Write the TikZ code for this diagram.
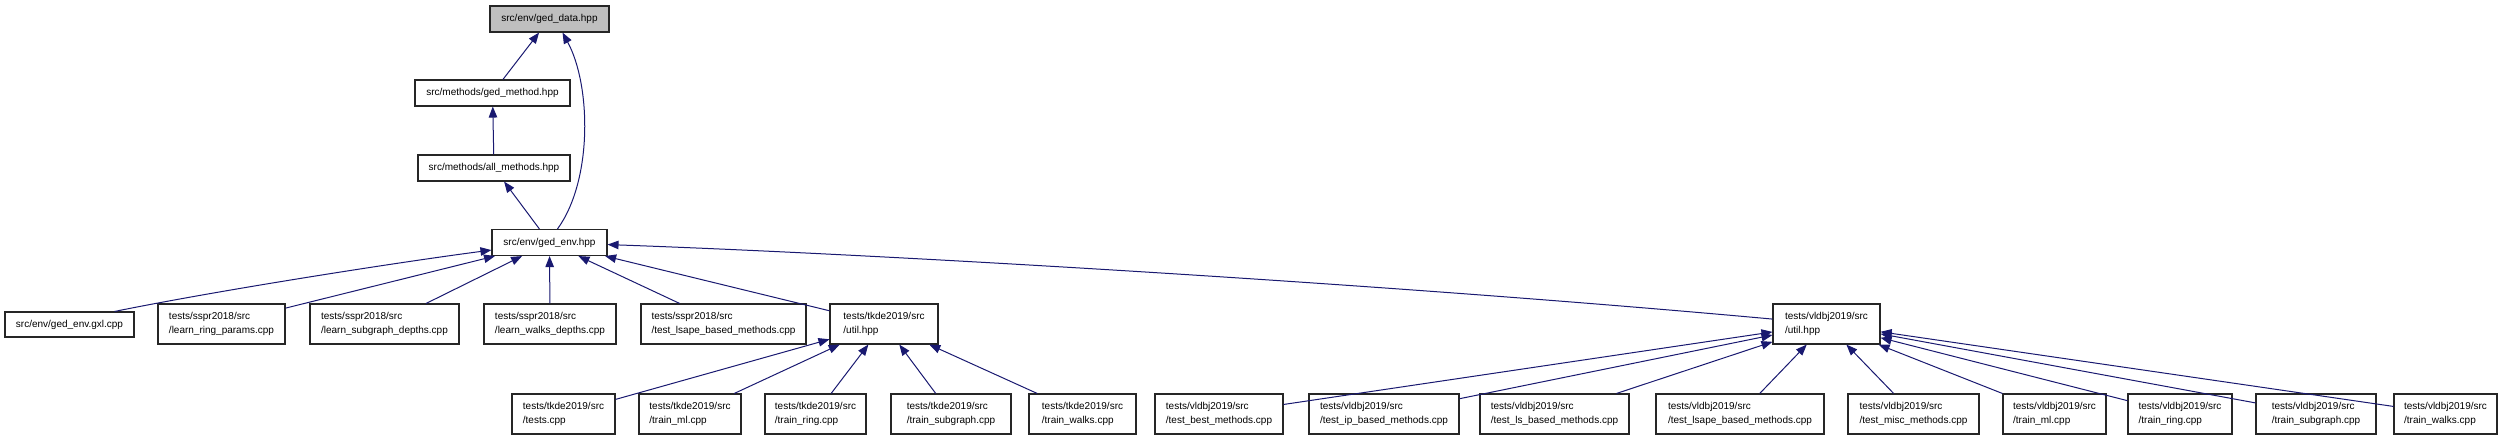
\documentclass[tikz,border=0pt]{standalone}
\usepackage{fontspec}
\setmainfont{Liberation Sans}
\usepackage{tikz}
\usetikzlibrary{arrows.meta}

\definecolor{edgeblue}{RGB}{25,25,112}
\definecolor{focusgray}{RGB}{191,191,191}

\begin{document}
\begin{tikzpicture}[x=1pt,y=-1pt,
  file/.style={draw=black!85,line width=1.1pt,inner sep=0pt,minimum height=26pt,
    font=\fontsize{10}{14.5}\selectfont,align=left},
  dep/.style={draw=edgeblue,line width=1pt,-{Triangle[length=11pt,width=8.5pt]}}]
\useasboundingbox (0,0) rectangle (2500,440);
% upper chain
\node[file,fill=focusgray,minimum width=119pt] (gedata) at (549.5,19) {src/env/ged\_data.hpp};
\node[file,minimum width=155pt] (gedmethod) at (492.5,93) {src/methods/ged\_method.hpp};
\node[file,minimum width=152pt] (allmethods) at (494,168) {src/methods/all\_methods.hpp};
\node[file,minimum width=115pt] (gedenv) at (549.5,242.5) {src/env/ged\_env.hpp};
% files that include ged_env.hpp
\node[file,minimum width=129pt,minimum height=25pt] (gxl) at (69.5,324.5) {src/env/ged\_env.gxl.cpp};
\node[file,minimum width=127pt,minimum height=40pt] (learnring) at (221.5,324) {tests/sspr2018/src\\/learn\_ring\_params.cpp};
\node[file,minimum width=149pt,minimum height=40pt] (learnsub) at (384.5,324) {tests/sspr2018/src\\/learn\_subgraph\_depths.cpp};
\node[file,minimum width=132pt,minimum height=40pt] (learnwalks) at (550,324) {tests/sspr2018/src\\/learn\_walks\_depths.cpp};
\node[file,minimum width=165pt,minimum height=40pt] (ssprlsape) at (723.5,324) {tests/sspr2018/src\\/test\_lsape\_based\_methods.cpp};
\node[file,minimum width=108pt,minimum height=40pt] (tkdeutil) at (884,324) {tests/tkde2019/src\\/util.hpp};
\node[file,minimum width=107pt,minimum height=40pt] (vldbjutil) at (1826.5,324) {tests/vldbj2019/src\\/util.hpp};
% tkde2019 tests
\node[file,minimum width=103pt,minimum height=40pt] (tkdetests) at (563.5,414) {tests/tkde2019/src\\/tests.cpp};
\node[file,minimum width=102pt,minimum height=40pt] (tkdeml) at (690,414) {tests/tkde2019/src\\/train\_ml.cpp};
\node[file,minimum width=101pt,minimum height=40pt] (tkdering) at (815.5,414) {tests/tkde2019/src\\/train\_ring.cpp};
\node[file,minimum width=120pt,minimum height=40pt] (tkdesub) at (951,414) {tests/tkde2019/src\\/train\_subgraph.cpp};
\node[file,minimum width=107pt,minimum height=40pt] (tkdewalks) at (1082.5,414) {tests/tkde2019/src\\/train\_walks.cpp};
% vldbj2019 tests
\node[file,minimum width=128pt,minimum height=40pt] (vbest) at (1219,414) {tests/vldbj2019/src\\/test\_best\_methods.cpp};
\node[file,minimum width=150pt,minimum height=40pt] (vip) at (1384,414) {tests/vldbj2019/src\\/test\_ip\_based\_methods.cpp};
\node[file,minimum width=149pt,minimum height=40pt] (vls) at (1554.5,414) {tests/vldbj2019/src\\/test\_ls\_based\_methods.cpp};
\node[file,minimum width=168pt,minimum height=40pt] (vlsape) at (1740,414) {tests/vldbj2019/src\\/test\_lsape\_based\_methods.cpp};
\node[file,minimum width=131pt,minimum height=40pt] (vmisc) at (1913.5,414) {tests/vldbj2019/src\\/test\_misc\_methods.cpp};
\node[file,minimum width=103pt,minimum height=40pt] (vml) at (2054.5,414) {tests/vldbj2019/src\\/train\_ml.cpp};
\node[file,minimum width=104pt,minimum height=40pt] (vring) at (2180,414) {tests/vldbj2019/src\\/train\_ring.cpp};
\node[file,minimum width=120pt,minimum height=40pt] (vsub) at (2316,414) {tests/vldbj2019/src\\/train\_subgraph.cpp};
\node[file,minimum width=103pt,minimum height=40pt] (vwalks) at (2445.5,414) {tests/vldbj2019/src\\/train\_walks.cpp};
% include edges
\draw[dep] (gedmethod) -- (gedata);
\draw[dep] ([xshift=8pt]gedenv.north) .. controls (593,180) and (591,85) .. ([xshift=13pt]gedata.south);
\draw[dep] (allmethods) -- (gedmethod);
\draw[dep] (gedenv) -- (allmethods);
\draw[dep] ([xshift=-20pt]gxl.north east) .. controls (220,290) and (400,262) .. (gedenv);
\draw[dep] (learnring) -- (gedenv);
\draw[dep] (learnsub) -- (gedenv);
\draw[dep] (learnwalks) -- (gedenv);
\draw[dep] (ssprlsape) -- (gedenv);
\draw[dep] (tkdeutil) -- (gedenv);
\draw[dep] (vldbjutil) .. controls (1400,285) and (900,255) .. (gedenv);
\draw[dep] (tkdetests) -- (tkdeutil);
\draw[dep] (tkdeml) -- (tkdeutil);
\draw[dep] (tkdering) -- (tkdeutil);
\draw[dep] (tkdesub) -- (tkdeutil);
\draw[dep] (tkdewalks) -- (tkdeutil);
\draw[dep] (vbest) -- (vldbjutil);
\draw[dep] (vip) -- (vldbjutil);
\draw[dep] (vls) -- (vldbjutil);
\draw[dep] (vlsape) -- (vldbjutil);
\draw[dep] (vmisc) -- (vldbjutil);
\draw[dep] (vml) -- (vldbjutil);
\draw[dep] (vring) -- (vldbjutil);
\draw[dep] (vsub) -- (vldbjutil);
\draw[dep] (vwalks) -- (vldbjutil);
\end{tikzpicture}
\end{document}
